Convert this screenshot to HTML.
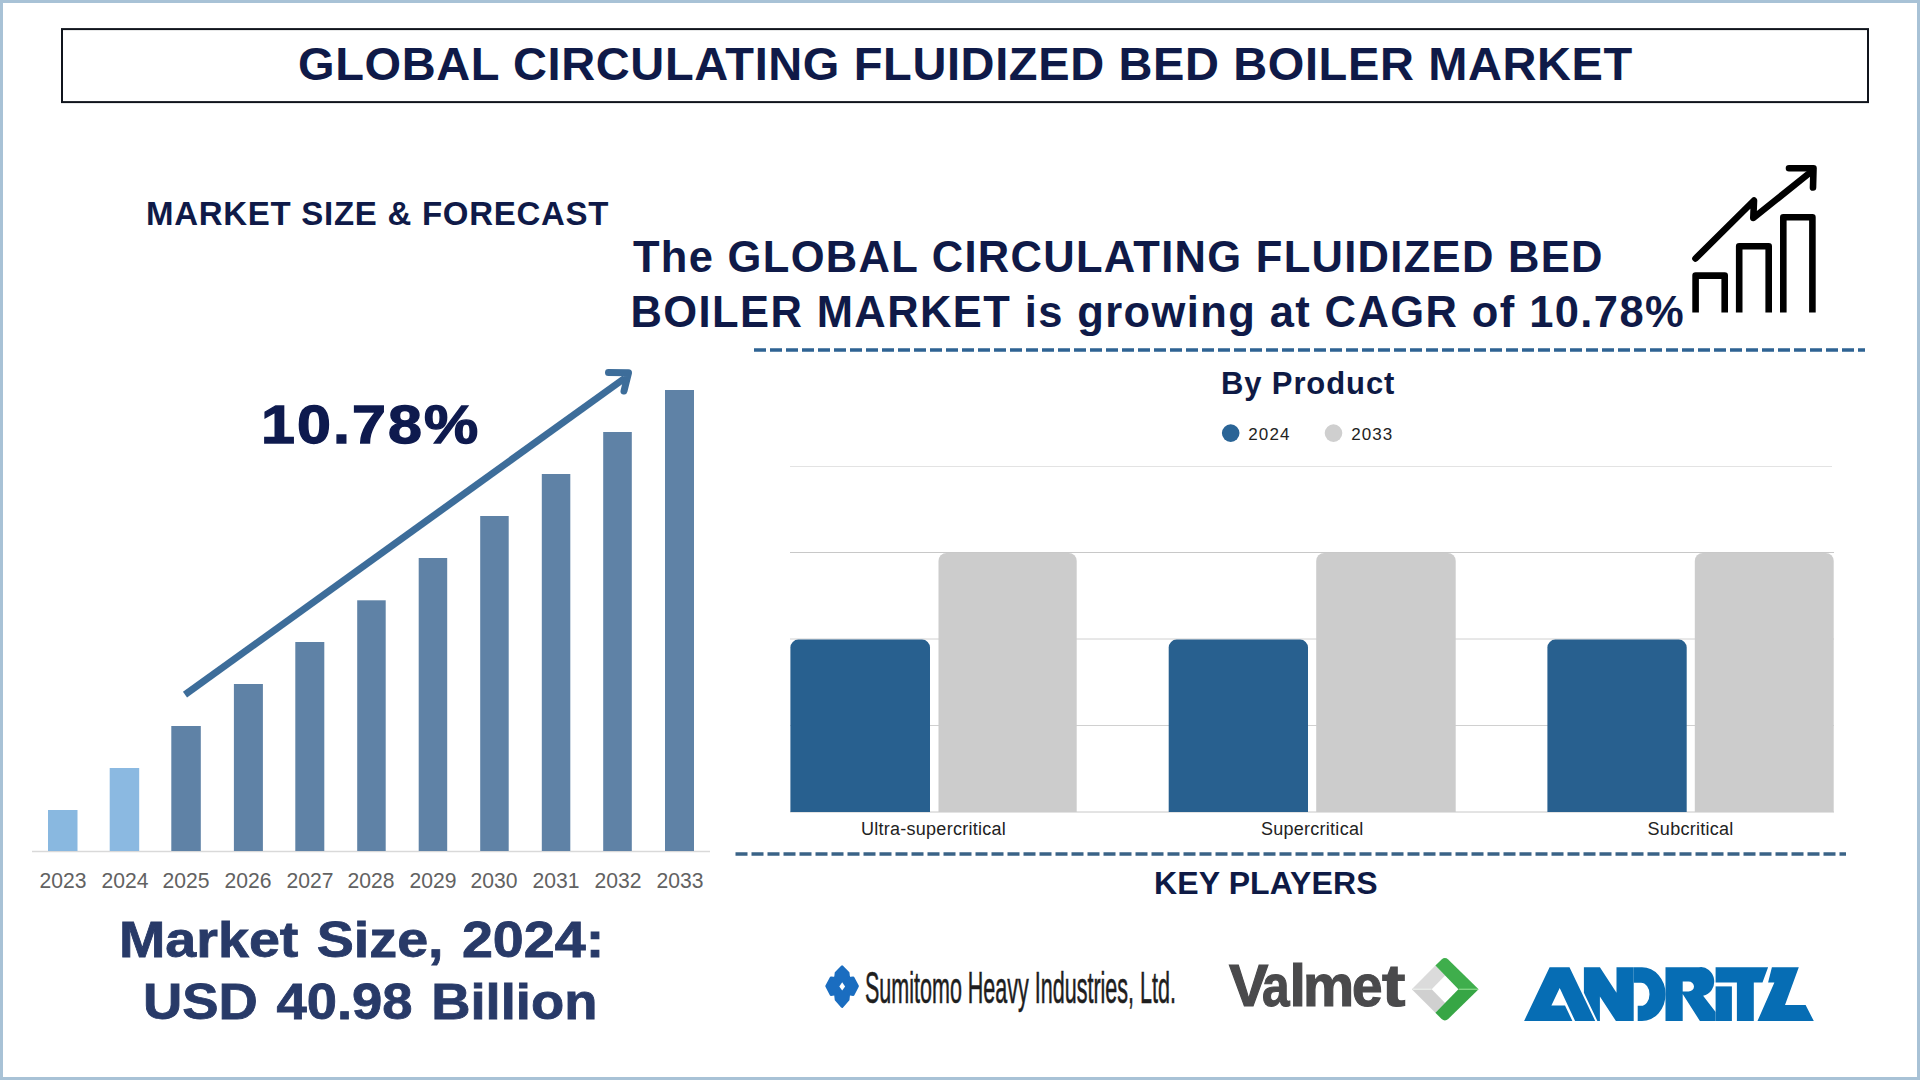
<!DOCTYPE html>
<html><head><meta charset="utf-8">
<style>
*{margin:0;padding:0;box-sizing:border-box}
html,body{width:1920px;height:1080px;overflow:hidden;background:#fff}
body{position:relative;font-family:"Liberation Sans",sans-serif}
.frame{position:absolute;left:0;top:0;width:1920px;height:1080px;border:3px solid #a8c2d6;border-left-width:3px}
.t{position:absolute;white-space:nowrap;font-weight:bold;color:#0f1a48}
.r{position:absolute;white-space:nowrap;font-weight:normal}
svg{position:absolute;left:0;top:0}
</style></head>
<body>
<div class="frame"></div>
<svg width="1920" height="1080" viewBox="0 0 1920 1080">
  <!-- title box -->
  <rect x="62" y="29.1" width="1806" height="73" fill="none" stroke="#10141c" stroke-width="2"/>
  <!-- dashed lines -->
  <line x1="754" y1="350" x2="1865" y2="350" stroke="#2e6393" stroke-width="3.6" stroke-dasharray="12 4"/>
  <line x1="735.5" y1="854" x2="1846" y2="854" stroke="#3a6387" stroke-width="3.5" stroke-dasharray="12 4"/>

  <!-- left bar chart -->
  <line x1="32" y1="851.5" x2="710" y2="851.5" stroke="#d9d9d9" stroke-width="1.5"/>
  <g fill="#5f82a6">
    <rect x="48" y="810" width="29.5" height="41" fill="#89b8e0"/>
    <rect x="109.7" y="768" width="29.5" height="83" fill="#8bb9e1"/>
    <rect x="171.3" y="726" width="29.5" height="125"/>
    <rect x="233.9" y="684" width="29" height="167"/>
    <rect x="295.3" y="642" width="29" height="209"/>
    <rect x="357.2" y="600.3" width="28.5" height="250.7"/>
    <rect x="418.7" y="558" width="28.5" height="293"/>
    <rect x="480.2" y="516" width="28.5" height="335"/>
    <rect x="541.8" y="474" width="28.5" height="377"/>
    <rect x="603.2" y="432" width="28.6" height="419"/>
    <rect x="665" y="390" width="29" height="461"/>
  </g>
  <!-- big arrow -->
  <g stroke="#3d6d9a" stroke-width="7" fill="none">
    <line x1="185" y1="694.6" x2="625" y2="378"/>
    <polyline points="608.5,372.5 628.5,372.8 624,391" stroke-linecap="round" stroke-linejoin="round"/>
  </g>

  <!-- top-right icon -->
  <g stroke="#000" stroke-width="6.6" fill="none" stroke-linejoin="round">
    <polyline points="1695.6,312.4 1695.6,275.6 1724.7,275.6 1724.7,312.4"/>
    <polyline points="1739.2,312.4 1739.2,246.3 1768.7,246.3 1768.7,312.4"/>
    <polyline points="1783.3,312.4 1783.3,217.3 1812.4,217.3 1812.4,312.4"/>
    <polyline points="1695.5,258.5 1754,200.5 1753.3,218 1812,171" stroke-linecap="round"/>
    <polyline points="1789,168.3 1813.5,168.3 1813,187.5" stroke-linecap="round"/>
  </g>

  <!-- right bar chart gridlines -->
  <g stroke="#e3e3e3" stroke-width="1">
    <line x1="790" y1="466.5" x2="1832" y2="466.5"/>
    <line x1="790" y1="552.5" x2="1834" y2="552.5" stroke="#c8c8c8"/>
    <line x1="790" y1="639" x2="1834" y2="639" stroke="#d0d0d0"/>
    <line x1="790" y1="725.5" x2="1834" y2="725.5" stroke="#d0d0d0"/>
    <line x1="790" y1="812" x2="1834" y2="812" stroke="#c8c8c8"/>
  </g>
  <g>
    <path d="M790.4,812 V647.6 a8,8 0 0 1 8,-8 H922 a8,8 0 0 1 8,8 V812 Z" fill="#28608f"/>
    <path d="M938.5,812 V561 a8,8 0 0 1 8,-8 H1068.7 a8,8 0 0 1 8,8 V812 Z" fill="#cccccc"/>
    <path d="M1168.7,812 V647.6 a8,8 0 0 1 8,-8 H1300 a8,8 0 0 1 8,8 V812 Z" fill="#28608f"/>
    <path d="M1316.2,812 V561 a8,8 0 0 1 8,-8 H1447.7 a8,8 0 0 1 8,8 V812 Z" fill="#cccccc"/>
    <path d="M1547.4,812 V647.6 a8,8 0 0 1 8,-8 H1678.7 a8,8 0 0 1 8,8 V812 Z" fill="#28608f"/>
    <path d="M1694.8,812 V561 a8,8 0 0 1 8,-8 H1825.7 a8,8 0 0 1 8,8 V812 Z" fill="#cccccc"/>
  </g>
  <!-- legend -->
  <circle cx="1230.7" cy="433.1" r="8.8" fill="#2a6496"/>
  <circle cx="1333.5" cy="433.1" r="8.8" fill="#cfcfcf"/>

  <!-- Sumitomo mark -->
  <polygon points="842.1,966.6 848.2,972.8 848.8,978.4 853.2,977.8 857.6,986.2 853.2,994.6 848.8,994 848.2,999.6 842.1,1006.6 836,999.6 835.4,994 831,994.6 826.6,986.2 831,977.8 835.4,978.4 836,972.8" fill="#1a6dc0" stroke="#1a6dc0" stroke-width="2.6" stroke-linejoin="round"/>
  <polygon points="842.2,982.2 845.1,986.4 842.2,990.4 839.3,986.4" fill="#fff"/>

  <!-- Valmet mark -->
  <polygon points="1411.8,989.2 1435.4,965.6 1445.1,975.5 1431.7,989.2" fill="#dbdbdb"/>
  <polygon points="1411.8,989.2 1431.7,989.2 1445.1,1002.9 1435.4,1012.8" fill="#d0d0d0"/>
  <path d="M1435.4,965.6 L1441.6,959.4 Q1444.9,956.6 1448.2,959.4 L1478.6,989.2 L1458.4,989.2 Z" fill="#3fae4c"/>
  <path d="M1458.4,989.2 L1478.6,989.2 L1448.2,1019 Q1444.9,1021.8 1441.6,1019 L1435.4,1012.8 Z" fill="#37a645"/>
  <line x1="1459" y1="989.2" x2="1478" y2="989.2" stroke="#8fe08f" stroke-width="1"/>
  <line x1="1413" y1="989.2" x2="1431.5" y2="989.2" stroke="#eef2ee" stroke-width="1"/>

  <!-- ANDRITZ -->
  <g fill="#066db4" fill-rule="evenodd">
    <polygon points="1524.1,1021 1549.6,967.3 1569.5,967.3 1595.2,1021 1575.1,1021 1559.7,988.1 1551.4,1005.5 1565,1005.5 1572.4,1021"/>
    <polygon points="1583.9,967.3 1599.9,967.3 1616.5,992.8 1616.5,967.3 1633.7,967.3 1633.7,1021 1615.9,1021 1599.9,996.4 1599.9,1021 1597.4,1021 1583.9,992.8"/>
    <path d="M1633.7,967.3 H1642 A23.6,26.85 0 0 1 1642,1021 H1637.7 V1005.8 H1641 A8.5,11.55 0 0 0 1641,982.7 H1633.7 Z"/>
    <path d="M1665.5,967.3 H1699 A13,14.2 0 0 1 1703.1,995.75 L1715.6,1012 V1021 H1699.9 L1682.7,994 V1021 H1665.5 Z M1682.7,981.5 H1688.5 A5.5,5.05 0 0 1 1688.5,991.6 H1682.7 Z"/>
    <polygon points="1715.6,967.3 1768.1,967.3 1762.5,982.6 1753.8,982.6 1753.8,1021 1736.9,1021 1736.9,982.6 1715.6,982.6"/>
    <rect x="1715.6" y="986.4" width="16.3" height="34.6"/>
    <polygon points="1771.9,967.3 1798.8,967.3 1785,1005.1 1805.6,1005.1 1813.8,1021 1757.5,1021 1774.4,982.6 1768.1,982.6"/>
  </g>
</svg>

<div class="t" id="title" style="left:298px;top:40.2px;font-size:47px;line-height:47px;letter-spacing:0.62px">GLOBAL CIRCULATING FLUIDIZED BED BOILER MARKET</div>
<div class="t" id="msf" style="left:146px;top:196.8px;font-size:33px;line-height:33px;letter-spacing:0.72px">MARKET SIZE &amp; FORECAST</div>
<div class="t" id="sub1" style="left:633px;top:235.6px;font-size:43.5px;line-height:43.5px;letter-spacing:1.3px">The GLOBAL CIRCULATING FLUIDIZED BED</div>
<div class="t" id="sub2" style="left:630.5px;top:290.6px;font-size:43.5px;line-height:43.5px;letter-spacing:1.4px">BOILER MARKET is growing at CAGR of 10.78%</div>
<div class="t" id="cagr" style="left:260.8px;top:397.6px;font-size:53.5px;line-height:53.5px;transform-origin:0 0;transform:scaleX(1.14);-webkit-text-stroke:1.3px #0e1a4e;letter-spacing:1.8px;color:#0e1a4e">10.78%</div>
<div class="t" id="ms1" style="left:119.4px;top:914.5px;font-size:50px;line-height:50px;transform-origin:0 0;transform:scaleX(1.113);-webkit-text-stroke:0.8px #283a68;word-spacing:2.6px;color:#283a68">Market Size, 2024:</div>
<div class="t" id="ms2" style="left:142.9px;top:977.4px;font-size:50px;line-height:50px;transform-origin:0 0;transform:scaleX(1.088);-webkit-text-stroke:0.8px #283a68;word-spacing:3.2px;color:#283a68">USD 40.98 Billion</div>
<div class="t" id="byp" style="left:1220.9px;top:367.8px;font-size:31px;line-height:31px;letter-spacing:0.9px;color:#0e1a45">By Product</div>
<div class="r" id="lg1" style="left:1248.3px;top:425.7px;font-size:17px;line-height:17px;letter-spacing:1.1px;color:#222">2024</div>
<div class="r" id="lg2" style="left:1351.2px;top:425.7px;font-size:17px;line-height:17px;letter-spacing:1.1px;color:#222">2033</div>
<div class="r" id="sumi" style="left:864.5px;top:965.6px;font-size:44px;line-height:44px;color:#1e1e1e;transform-origin:0 0;transform:scaleX(0.489);-webkit-text-stroke:0.6px #1e1e1e">Sumitomo Heavy Industries, Ltd.</div>
<div id="valmet" style="position:absolute;left:0;top:957.4px;font-weight:bold;font-size:59px;line-height:59px;color:#4a4a4c;-webkit-text-stroke:1.2px #4a4a4c">
<span style="position:absolute;left:1229.1px">V</span>
<span style="position:absolute;left:1261.5px;transform-origin:0 0;transform:scaleX(0.84)">a</span>
<span style="position:absolute;left:1289.6px">l</span>
<span style="position:absolute;left:1303.2px;transform-origin:0 0;transform:scaleX(0.975)">m</span>
<span style="position:absolute;left:1351.6px;transform-origin:0 0;transform:scaleX(0.93)">e</span>
<span style="position:absolute;left:1381.9px;transform-origin:0 0;transform:scaleX(1.19)">t</span>
</div>
<div class="t" id="kp" style="left:1154px;top:866.8px;font-size:32px;line-height:32px;letter-spacing:0.13px;color:#0e1a45">KEY PLAYERS</div>

<div id="years" style="position:absolute;left:0;top:870.4px;font-size:22px;line-height:22px;color:#626262">
<div class="r" id="y2023" style="left:32.8px;width:60px;text-align:center;top:0;transform:scaleX(0.96)">2023</div>
<div class="r" id="y2024" style="left:94.5px;width:60px;text-align:center;top:0;transform:scaleX(0.96)">2024</div>
<div class="r" id="y2025" style="left:156.1px;width:60px;text-align:center;top:0;transform:scaleX(0.96)">2025</div>
<div class="r" id="y2026" style="left:218.4px;width:60px;text-align:center;top:0;transform:scaleX(0.96)">2026</div>
<div class="r" id="y2027" style="left:279.8px;width:60px;text-align:center;top:0;transform:scaleX(0.96)">2027</div>
<div class="r" id="y2028" style="left:341.4px;width:60px;text-align:center;top:0;transform:scaleX(0.96)">2028</div>
<div class="r" id="y2029" style="left:402.9px;width:60px;text-align:center;top:0;transform:scaleX(0.96)">2029</div>
<div class="r" id="y2030" style="left:464.4px;width:60px;text-align:center;top:0;transform:scaleX(0.96)">2030</div>
<div class="r" id="y2031" style="left:526.0px;width:60px;text-align:center;top:0;transform:scaleX(0.96)">2031</div>
<div class="r" id="y2032" style="left:587.5px;width:60px;text-align:center;top:0;transform:scaleX(0.96)">2032</div>
<div class="r" id="y2033" style="left:649.5px;width:60px;text-align:center;top:0;transform:scaleX(0.96)">2033</div>
</div>
<div class="r" id="cat0" style="left:833.5px;width:200px;text-align:center;top:819.8px;font-size:18px;line-height:18px;color:#222;letter-spacing:0.27px">Ultra-supercritical</div>
<div class="r" id="cat1" style="left:1212.2px;width:200px;text-align:center;top:819.8px;font-size:18px;line-height:18px;color:#222;letter-spacing:0.27px">Supercritical</div>
<div class="r" id="cat2" style="left:1590.6px;width:200px;text-align:center;top:819.8px;font-size:18px;line-height:18px;color:#222;letter-spacing:0.27px">Subcritical</div>
</body></html>
